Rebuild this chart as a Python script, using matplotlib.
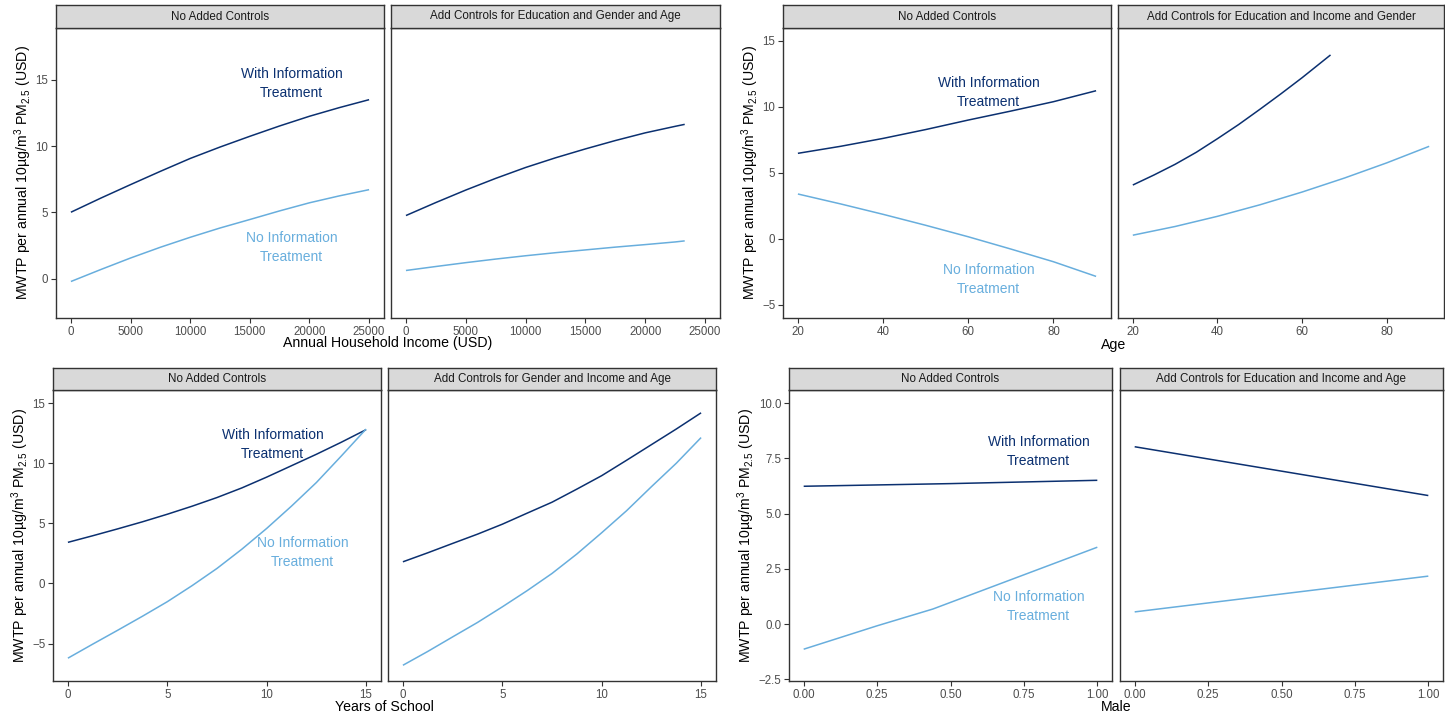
import matplotlib
matplotlib.use("Agg")
import matplotlib.pyplot as plt

plt.rcParams['font.family'] = ['Liberation Sans', 'DejaVu Sans']
plt.rcParams['mathtext.fontset'] = 'custom'
plt.rcParams['mathtext.rm'] = 'Liberation Sans'
plt.rcParams['mathtext.it'] = 'Liberation Sans:italic'
plt.rcParams['mathtext.bf'] = 'Liberation Sans:bold'

DARK = '#0B3070'
LIGHT = '#68AEDD'

# ---------------- Data ----------------
# Block 1: Income
inc_x_noctrl = [0, 2500, 5000, 7500, 10000, 12500, 15000, 17500, 20000, 22500, 25000]
inc_with_noctrl = [5.02, 6.08, 7.10, 8.10, 9.07, 9.93, 10.74, 11.52, 12.25, 12.90, 13.50]
inc_no_noctrl = [-0.20, 0.70, 1.57, 2.38, 3.13, 3.83, 4.47, 5.12, 5.73, 6.25, 6.72]
inc_x_ctrl = [0, 2500, 5000, 7500, 10000, 12500, 15000, 17500, 20000, 22500, 23300]
inc_with_ctrl = [4.77, 5.75, 6.69, 7.57, 8.39, 9.12, 9.79, 10.42, 11.00, 11.49, 11.64]
inc_no_ctrl = [0.63, 0.93, 1.22, 1.49, 1.74, 1.97, 2.18, 2.39, 2.58, 2.78, 2.86]

# Block 2: Age
age_x_noctrl = [20, 30, 40, 50, 60, 70, 80, 90]
age_with_noctrl = [6.47, 7.00, 7.60, 8.27, 8.99, 9.67, 10.38, 11.21]
age_no_noctrl = [3.39, 2.64, 1.85, 1.02, 0.15, -0.78, -1.74, -2.85]
age_x_with_ctrl = [20, 25, 30, 35, 40, 45, 50, 55, 60, 66.7]
age_with_ctrl = [4.07, 4.83, 5.64, 6.55, 7.58, 8.65, 9.80, 10.98, 12.20, 13.92]
age_x_no_ctrl = [20, 30, 40, 50, 60, 70, 80, 90]
age_no_ctrl = [0.27, 0.93, 1.70, 2.57, 3.54, 4.60, 5.75, 7.00]

# Block 3: Years of school
sch_x = [0, 1.25, 2.5, 3.75, 5, 6.25, 7.5, 8.75, 10, 11.25, 12.5, 13.75, 15]
sch_with_noctrl = [3.42, 3.97, 4.54, 5.13, 5.76, 6.43, 7.15, 7.95, 8.85, 9.80, 10.75, 11.75, 12.80]
sch_no_noctrl = [-6.22, -5.05, -3.90, -2.73, -1.52, -0.18, 1.25, 2.85, 4.58, 6.44, 8.40, 10.60, 12.85]
sch_with_ctrl = [1.80, 2.55, 3.33, 4.10, 4.93, 5.85, 6.76, 7.85, 8.97, 10.25, 11.55, 12.85, 14.20]
sch_no_ctrl = [-6.81, -5.66, -4.45, -3.25, -1.95, -0.60, 0.83, 2.45, 4.22, 6.05, 8.05, 10.00, 12.14]

# Block 4: Male
male_x_noctrl_with = [0, 0.5, 1]
male_with_noctrl = [6.24, 6.36, 6.51]
male_x_noctrl_no = [0, 0.25, 0.44, 0.5, 0.75, 1]
male_no_noctrl = [-1.14, -0.08, 0.68, 0.98, 2.23, 3.48]
male_x_ctrl = [0, 1]
male_with_ctrl = [8.03, 5.82]
male_no_ctrl = [0.55, 2.17]

# Strip titles / axis titles
strip_titles = [
    ["No Added Controls", "Add Controls for Education and Gender and Age"],
    ["No Added Controls", "Add Controls for Education and Income and Gender"],
    ["No Added Controls", "Add Controls for Gender and Income and Age"],
    ["No Added Controls", "Add Controls for Education and Income and Age"],
]
x_titles = ["Annual Household Income (USD)", "Age", "Years of School", "Male"]
y_title = r"MWTP per annual 10µg/m$^3$ PM$_{2.5}$ (USD)"

# ---------------- Layout ----------------
W, H = 1445, 720
fig = plt.figure(figsize=(W / 100, H / 100), dpi=100)

def rect(x0, x1, y0, y1):
    return [x0 / W, 1 - y1 / H, (x1 - x0) / W, (y1 - y0) / H]

EDGE = '#333333'
TICKC = '#4D4D4D'

blocks = [
    dict(px=[(56, 384), (391, 720)], top=28, bot=318, strip=5,
         xlim=(-1250, 26250), xticks=[0, 5000, 10000, 15000, 20000, 25000],
         xtl=['0', '5000', '10000', '15000', '20000', '25000'],
         ylim=(-2.95, 18.9), yticks=[0, 5, 10, 15], ytl=['0', '5', '10', '15'],
         ylab_x=23, xlab_y=343),
    dict(px=[(783, 1111), (1118, 1444)], top=28, bot=318, strip=5,
         xlim=(16.5, 93.5), xticks=[20, 40, 60, 80], xtl=['20', '40', '60', '80'],
         ylim=(-6.0, 15.96), yticks=[-5, 0, 5, 10, 15], ytl=['\u22125', '0', '5', '10', '15'],
         ylab_x=750, xlab_y=345),
    dict(px=[(53, 381), (388, 716)], top=390, bot=681, strip=368,
         xlim=(-0.75, 15.75), xticks=[0, 5, 10, 15], xtl=['0', '5', '10', '15'],
         ylim=(-8.12, 16.1), yticks=[-5, 0, 5, 10, 15], ytl=['\u22125', '0', '5', '10', '15'],
         ylab_x=20, xlab_y=707),
    dict(px=[(789, 1112), (1120, 1443)], top=390, bot=681, strip=368,
         xlim=(-0.05, 1.05), xticks=[0, 0.25, 0.5, 0.75, 1.0],
         xtl=['0.00', '0.25', '0.50', '0.75', '1.00'],
         ylim=(-2.58, 10.6), yticks=[-2.5, 0, 2.5, 5, 7.5, 10],
         ytl=['\u22122.5', '0.0', '2.5', '5.0', '7.5', '10.0'],
         ylab_x=746, xlab_y=707),
]

series = [
    [
        [(inc_x_noctrl, inc_with_noctrl, DARK), (inc_x_noctrl, inc_no_noctrl, LIGHT)],
        [(inc_x_ctrl, inc_with_ctrl, DARK), (inc_x_ctrl, inc_no_ctrl, LIGHT)],
    ],
    [
        [(age_x_noctrl, age_with_noctrl, DARK), (age_x_noctrl, age_no_noctrl, LIGHT)],
        [(age_x_with_ctrl, age_with_ctrl, DARK), (age_x_no_ctrl, age_no_ctrl, LIGHT)],
    ],
    [
        [(sch_x, sch_with_noctrl, DARK), (sch_x, sch_no_noctrl, LIGHT)],
        [(sch_x, sch_with_ctrl, DARK), (sch_x, sch_no_ctrl, LIGHT)],
    ],
    [
        [(male_x_noctrl_with, male_with_noctrl, DARK), (male_x_noctrl_no, male_no_noctrl, LIGHT)],
        [(male_x_ctrl, male_with_ctrl, DARK), (male_x_ctrl, male_no_ctrl, LIGHT)],
    ],
]

# annotation positions (data coords) in the first panel of each block
annots = [
    ((18500, 14.73), (18500, 2.35)),
    ((64.8, 11.08), (64.8, -3.09)),
    ((10.3, 11.6), (11.8, 2.61)),
    ((0.80, 7.81), (0.80, 0.79)),
]

for bi, b in enumerate(blocks):
    for pi, (x0, x1) in enumerate(b['px']):
        ax = fig.add_axes(rect(x0, x1, b['top'], b['bot']))
        for xs, ys, c in series[bi][pi]:
            ax.plot(xs, ys, color=c, lw=1.1, solid_capstyle='butt',
                    solid_joinstyle='round')
        ax.set_xlim(*b['xlim'])
        ax.set_ylim(*b['ylim'])
        ax.set_xticks(b['xticks'])
        ax.set_xticklabels(b['xtl'])
        ax.set_yticks(b['yticks'])
        if pi == 0:
            ax.set_yticklabels(b['ytl'])
            ax.tick_params(axis='y', length=3.5, width=0.8, color=EDGE,
                           labelsize=8.3, labelcolor=TICKC, pad=2)
        else:
            ax.tick_params(axis='y', left=False, labelleft=False)
        ax.tick_params(axis='x', length=3.5, width=0.8, color=EDGE,
                       labelsize=8.3, labelcolor=TICKC, pad=2)
        for s in ax.spines.values():
            s.set_color(EDGE)
            s.set_linewidth(1.0)
        # strip
        sax = fig.add_axes(rect(x0, x1, b['strip'], b['top']))
        sax.set_facecolor('#D9D9D9')
        sax.set_xticks([]); sax.set_yticks([])
        for s in sax.spines.values():
            s.set_color(EDGE)
            s.set_linewidth(1.0)
        sax.text(0.5, 0.5, strip_titles[bi][pi], ha='center', va='center',
                 fontsize=8.4, color='#1A1A1A', transform=sax.transAxes)
        if pi == 0:
            (wx, wy), (nx, ny) = annots[bi]
            ax.text(wx, wy, "With Information\nTreatment", color=DARK, ha='center',
                    va='center', fontsize=10, linespacing=1.45)
            ax.text(nx, ny, "No Information\nTreatment", color=LIGHT, ha='center',
                    va='center', fontsize=10, linespacing=1.45)
    # axis titles
    xc = (b['px'][0][0] + b['px'][1][1]) / 2
    fig.text(xc / W, 1 - b['xlab_y'] / H, x_titles[bi], ha='center', va='center',
             fontsize=10.2, color='black')
    yc = (b['top'] + b['bot']) / 2
    fig.text(b['ylab_x'] / W, 1 - yc / H, y_title, rotation=90, ha='center',
             va='center', fontsize=10.2, color='black')

fig.savefig('out.png', dpi=100)
